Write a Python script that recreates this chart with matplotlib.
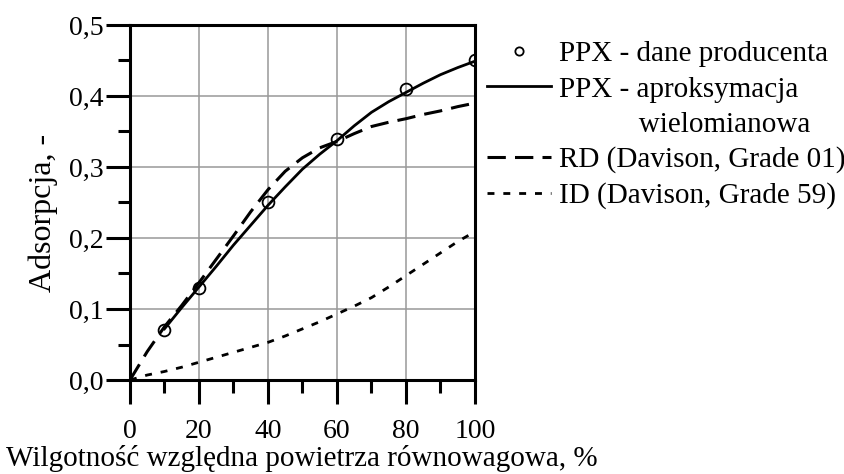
import numpy as np
import matplotlib.pyplot as plt
from matplotlib.lines import Line2D
from matplotlib.ticker import MultipleLocator, FuncFormatter

plt.rcParams["font.family"] = ["Liberation Serif", "DejaVu Serif"]

# dane producenta PPX
X_PPX = [10, 20, 40, 60, 80, 100]
Y_PPX = [0.07, 0.13, 0.25, 0.34, 0.41, 0.45]

# aproksymacja wielomianowa
X_FIT = [10, 15, 20, 25, 30, 35, 40, 45, 50, 55, 60, 65, 70, 75, 80, 85, 90, 95, 100]
Y_FIT = [0.072, 0.102, 0.131, 0.160, 0.190, 0.218, 0.246, 0.272, 0.297, 0.318, 0.337,
         0.358, 0.377, 0.392, 0.405, 0.418, 0.430, 0.440, 0.449]

# RD (Davison, Grade 01)
X_RD = [0, 5, 10, 15, 20, 25, 30, 35, 40, 45, 50, 55, 60, 65, 70, 75, 80, 85, 90, 95, 100]
Y_RD = [0.0, 0.040, 0.075, 0.105, 0.137, 0.170, 0.203, 0.237, 0.268, 0.294, 0.313, 0.327,
        0.336, 0.347, 0.357, 0.363, 0.368, 0.374, 0.379, 0.385, 0.390]

# ID (Davison, Grade 59)
X_ID = [0, 5, 10, 15, 20, 25, 30, 35, 40, 45, 50, 55, 60, 65, 70, 75, 80, 85, 90, 95, 100]
Y_ID = [0.0, 0.007, 0.012, 0.018, 0.025, 0.032, 0.039, 0.046, 0.053, 0.062, 0.072, 0.082,
        0.093, 0.104, 0.116, 0.131, 0.147, 0.163, 0.179, 0.195, 0.209]

fig = plt.figure(figsize=(8.45, 4.74), dpi=100)
ax = fig.add_axes([0.1538, 0.1983, 0.4083, 0.749])

h1, = ax.plot(X_PPX, Y_PPX, "o", mfc="none", mec="black", ms=8.5, mew=1.3, zorder=5)
h2, = ax.plot(X_FIT, Y_FIT, "-", color="black", lw=2.0)
h3, = ax.plot(X_RD, Y_RD, color="black", lw=2.2, dashes=(6, 3))
h4, = ax.plot(X_ID, Y_ID, color="black", lw=2.0, dashes=(2.5, 3.2))
blank = Line2D([], [], color="none")

ax.set_xlim(0, 100)
ax.set_ylim(0, 0.5)
ax.xaxis.set_major_locator(MultipleLocator(20))
ax.xaxis.set_minor_locator(MultipleLocator(10))
ax.yaxis.set_major_locator(MultipleLocator(0.1))
ax.yaxis.set_minor_locator(MultipleLocator(0.05))
ax.yaxis.set_major_formatter(FuncFormatter(lambda v, p: f"{v:.1f}".replace(".", ",")))

ax.grid(True, which="major", color="#999999", lw=1.1)
ax.set_axisbelow(True)
for s in ax.spines.values():
    s.set_linewidth(2.2)
ax.tick_params(which="major", direction="out", length=17, width=2.2, labelsize=20)
ax.tick_params(axis="x", which="major", pad=11)
ax.tick_params(axis="y", which="major", pad=2)
ax.tick_params(which="minor", direction="out", length=9, width=2.2)

fig.text(43 / 845, 1 - 213 / 474, "Adsorpcja, -", fontsize=23, rotation=90,
         ha="center", va="center")
fig.text(302 / 845, 1 - 459 / 474, "Wilgotność względna powietrza równowagowa, %",
         fontsize=21, ha="center", va="center")

handles = [h1, h2, blank, h3, h4]
labels = ["PPX - dane producenta", "PPX - aproksymacja", "           wielomianowa",
          "RD (Davison, Grade 01)", "ID (Davison, Grade 59)"]
leg = fig.legend(handles, labels, loc="upper left", bbox_to_anchor=(487 / 845, 1 - 41 / 474),
                 frameon=False, fontsize=21, handlelength=2.2, handletextpad=0.27,
                 markerscale=0.7, labelspacing=0.3, borderaxespad=0, borderpad=0)

fig.savefig("out.png", dpi=100)
